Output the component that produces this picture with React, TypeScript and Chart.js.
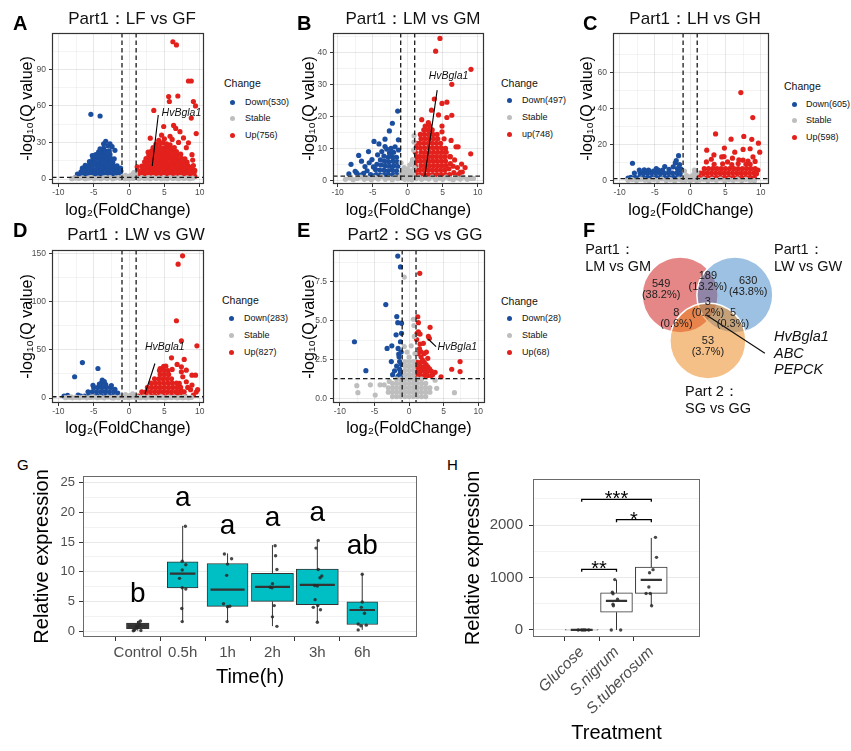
import React, { useEffect, useRef } from "react";
import { Chart, registerables } from "chart.js";

Chart.register(...registerables);

const FONT = "'Liberation Sans', Arial, Helvetica, sans-serif";
const BLUE = "#1B4E9E";
const RED = "#E3211C";
const GREY = "#BEBEBE";
const TICK_GREY = "#4D4D4D";

// ---------------- Volcano data: [log2FC, -log10(Q)] ----------------
const A_STABLE = [[-8.1,0.3],[-7.6,0.9],[-7.1,0.4],[-6.6,1.0],[-6.2,0.2],[-5.8,0.7],[-5.3,1.1],[-4.9,0.3],[-4.4,0.8],[-4.0,0.2],[-3.6,1.0],[-3.1,0.5],[-2.7,1.2],[-2.3,0.3],[-1.9,0.9],[-1.5,1.2],[-1.2,0.4],[-0.9,2.2],[-0.7,1.0],[-0.5,3.1],[-0.3,0.5],[-0.2,1.8],[0.0,0.2],[0.1,2.6],[0.3,1.1],[0.5,3.8],[0.6,0.4],[0.8,2.0],[0.9,4.6],[1.1,1.0],[1.4,0.3],[1.8,1.1],[2.2,0.4],[2.6,0.9],[3.0,0.2],[3.4,1.2],[3.8,0.5],[4.2,1.0],[4.6,0.3],[5.0,0.8],[5.4,0.2],[5.8,1.1],[6.2,0.5],[6.6,0.9],[7.0,0.2],[7.4,1.0],[7.8,0.4],[8.2,0.9],[8.6,0.3],[9.0,0.7],[-5.5,1.2],[-3.3,1.2],[2.8,1.2],[4.9,1.2],[7.2,1.2],[-0.6,0.2],[0.7,5.5]];
const A_DOWN = [[-7.2,1.6],[-7.3,4.1],[-6.7,2.2],[-6.8,5.8],[-6.6,8.9],[-6.2,1.5],[-6.3,5.2],[-6.1,8.1],[-6.2,11.3],[-5.7,2.1],[-5.8,5.1],[-5.6,8.2],[-5.7,11.0],[-5.6,14.2],[-5.2,1.6],[-5.3,4.6],[-5.1,7.6],[-5.2,10.9],[-5.3,14.1],[-5.1,17.0],[-5.2,19.3],[-4.7,2.0],[-4.8,5.1],[-4.6,8.0],[-4.7,11.2],[-4.8,14.0],[-4.6,17.2],[-4.7,20.1],[-4.2,1.5],[-4.3,4.4],[-4.1,7.5],[-4.2,10.6],[-4.3,13.4],[-4.1,16.5],[-4.2,19.6],[-4.3,22.3],[-3.7,2.0],[-3.8,5.0],[-3.6,8.1],[-3.7,11.1],[-3.8,14.0],[-3.6,17.1],[-3.7,20.0],[-3.8,23.1],[-3.6,25.2],[-3.2,1.5],[-3.3,4.5],[-3.1,7.6],[-3.2,10.4],[-3.3,13.6],[-3.1,16.4],[-3.2,19.5],[-3.3,22.6],[-2.7,2.1],[-2.8,5.0],[-2.6,8.1],[-2.7,11.0],[-2.8,14.1],[-2.6,17.0],[-2.7,20.2],[-2.8,23.0],[-2.2,1.6],[-2.3,4.5],[-2.1,7.4],[-2.2,10.5],[-2.3,13.5],[-2.1,16.6],[-1.7,2.0],[-1.8,5.0],[-1.6,8.0],[-1.7,10.8],[-1.3,1.6],[-1.4,4.2],[-1.15,3.0],[-1.15,6.5],[-1.2,9.0],[-5.4,53.1],[-4.1,51.7],[-3.3,30.9],[-3.6,28.9],[-2.7,28.9],[-4.1,24.8],[-2.0,23.5],[-4.9,19.2],[-7.6,1.2],[-6.9,3.4],[-2.4,26.5],[-3.0,27.2]];
const A_UP = [[1.15,3.0],[1.2,7.0],[1.15,10.0],[1.3,2.0],[1.4,4.8],[1.8,1.6],[1.7,4.6],[1.9,7.7],[1.8,10.6],[2.3,2.0],[2.2,5.1],[2.4,8.0],[2.3,11.2],[2.2,14.0],[2.4,16.8],[2.8,1.6],[2.7,4.5],[2.9,7.6],[2.8,10.5],[2.7,13.6],[2.9,16.5],[2.8,19.4],[2.7,22.0],[3.3,2.1],[3.2,5.0],[3.4,8.1],[3.3,11.0],[3.2,14.1],[3.4,17.0],[3.3,20.1],[3.2,23.0],[3.4,25.8],[3.8,1.5],[3.7,4.6],[3.9,7.5],[3.8,10.6],[3.7,13.5],[3.9,16.6],[3.8,19.5],[3.7,22.6],[3.9,25.5],[3.8,28.6],[4.3,2.0],[4.2,5.1],[4.4,8.0],[4.3,11.1],[4.2,14.0],[4.4,17.1],[4.3,20.0],[4.2,23.1],[4.4,26.0],[4.3,29.4],[4.8,1.6],[4.7,4.5],[4.9,7.6],[4.8,10.5],[4.7,13.6],[4.9,16.5],[4.8,19.6],[4.7,22.5],[4.9,25.6],[4.8,29.8],[5.3,2.1],[5.2,5.0],[5.4,8.1],[5.3,11.0],[5.2,14.1],[5.4,17.0],[5.3,20.1],[5.2,23.0],[5.4,26.1],[5.3,28.8],[5.8,1.5],[5.7,4.6],[5.9,7.5],[5.8,10.6],[5.7,13.5],[5.9,16.6],[5.8,19.5],[5.7,22.6],[5.9,25.5],[5.8,28.0],[6.3,2.0],[6.2,5.1],[6.4,8.0],[6.3,11.1],[6.2,14.0],[6.4,17.1],[6.3,20.0],[6.2,23.1],[6.4,25.8],[6.8,1.6],[6.7,4.5],[6.9,7.6],[6.8,10.5],[6.7,13.6],[6.9,16.5],[6.8,19.6],[6.7,22.5],[7.3,2.1],[7.2,5.0],[7.4,8.1],[7.3,11.0],[7.2,14.1],[7.4,17.0],[7.3,20.4],[7.8,1.5],[7.7,4.6],[7.9,7.5],[7.8,10.6],[7.7,13.5],[7.9,16.6],[8.3,2.0],[8.2,5.1],[8.4,8.0],[8.3,11.1],[8.2,13.8],[8.8,1.6],[8.7,4.5],[8.9,7.6],[8.8,9.8],[9.3,2.1],[9.2,5.2],[6.2,112.6],[6.7,110.0],[8.4,80.4],[8.8,80.4],[6.9,68.1],[5.6,67.6],[5.7,63.6],[9.1,63.6],[9.4,60.0],[8.8,50.0],[3.5,56.3],[9.5,37.3],[4.9,43.1],[6.3,44.0],[6.6,41.5],[7.2,38.8],[5.8,35.1],[7.7,33.7],[8.4,29.7],[8.1,25.7],[6.1,32.5],[4.6,36.0],[4.2,31.7],[9.1,11.0],[9.3,7.0],[7.8,7.0],[3.0,33.5],[5.0,33.0],[7.0,30.0],[8.9,20.0],[9.0,15.5]];

const B_STABLE = [[-8.9,0.3],[-8.3,0.8],[-7.8,0.2],[-7.2,0.6],[-6.7,1.0],[-6.2,0.3],[-5.7,0.7],[-5.2,0.2],[-4.7,0.9],[-4.2,0.4],[-3.7,1.1],[-3.2,0.3],[-2.7,0.8],[-2.2,0.2],[-1.8,1.0],[-1.4,0.5],[-1.1,1.2],[-0.9,2.5],[-0.8,0.6],[-0.6,1.8],[-0.5,4.0],[-0.4,0.3],[-0.3,2.6],[-0.1,1.2],[0.0,3.5],[0.1,0.4],[0.2,2.0],[0.3,4.8],[0.4,1.0],[0.5,3.0],[0.6,0.2],[0.7,6.5],[0.8,1.8],[0.85,9.5],[0.9,14.0],[0.95,4.0],[0.9,12.0],[1.2,0.5],[1.6,1.0],[2.0,0.3],[2.5,0.8],[3.0,0.4],[3.5,1.0],[4.0,0.2],[4.5,0.7],[5.0,0.3],[5.5,1.0],[6.0,0.5],[6.5,0.2],[7.0,0.8],[7.5,0.4],[8.0,1.0],[8.5,0.3],[9.0,0.6],[9.4,0.6],[-0.95,5.5],[-0.7,3.3],[0.6,5.5]];
const B_DOWN = [[-1.43,21.7],[-2.19,17.9],[-2.62,15.5],[-3.24,12.9],[-4.81,12.2],[-4.1,11.4],[-1.33,12.7],[-5.6,9.0],[-7.0,7.8],[-5.1,6.5],[-6.6,6.0],[-8.1,5.0],[-6.1,4.3],[-7.5,2.8],[-7.3,2.3],[-3.24,10.6],[-2.38,10.0],[-4.5,1.8],[-4.6,3.4],[-4.4,5.0],[-3.9,1.6],[-4.0,3.2],[-3.8,4.8],[-3.9,6.4],[-3.3,1.8],[-3.4,3.2],[-3.2,4.6],[-3.3,6.0],[-3.4,7.6],[-2.7,1.6],[-2.8,3.0],[-2.6,4.4],[-2.7,5.8],[-2.8,7.2],[-2.6,8.6],[-2.1,1.8],[-2.2,3.2],[-2.0,4.6],[-2.1,6.0],[-2.2,7.4],[-2.0,8.8],[-1.5,1.6],[-1.6,3.0],[-1.4,4.4],[-1.5,5.8],[-1.6,7.2],[-5.3,1.8],[-5.8,3.0],[-6.3,2.2],[-4.9,4.2],[-5.5,5.5],[-3.0,9.8],[-4.3,8.0],[-1.8,10.5],[-3.7,9.0],[-1.3,9.5],[-8.4,2.0],[-6.8,1.6],[-4.8,1.4]];
const B_UP = [[1.2,1.8],[1.3,3.2],[1.1,4.6],[1.2,6.0],[1.3,7.4],[1.1,8.8],[1.2,10.2],[1.3,11.6],[1.8,1.8],[1.7,3.2],[1.9,4.6],[1.8,6.0],[1.7,7.4],[1.9,8.8],[1.8,10.2],[1.7,11.6],[1.9,13.0],[1.8,14.4],[2.4,1.8],[2.3,3.2],[2.5,4.6],[2.4,6.0],[2.3,7.4],[2.5,8.8],[2.4,10.2],[2.3,11.6],[2.5,13.0],[2.4,14.4],[2.3,15.8],[2.5,17.0],[3.0,1.8],[2.9,3.2],[3.1,4.6],[3.0,6.0],[2.9,7.4],[3.1,8.8],[3.0,10.2],[2.9,11.6],[3.1,13.0],[3.0,14.4],[2.9,15.8],[3.1,17.2],[3.6,1.8],[3.5,3.2],[3.7,4.6],[3.6,6.0],[3.5,7.4],[3.7,8.8],[3.6,10.2],[3.5,11.6],[3.7,13.0],[3.6,14.4],[3.5,15.8],[4.2,1.8],[4.1,3.2],[4.3,4.6],[4.2,6.0],[4.1,7.4],[4.3,8.8],[4.2,10.2],[4.1,11.6],[4.3,13.0],[4.2,14.4],[4.8,1.8],[4.7,3.2],[4.9,4.6],[4.8,6.0],[4.7,7.4],[4.9,8.8],[4.8,10.2],[4.7,11.6],[5.4,1.8],[5.3,3.2],[5.5,4.6],[5.4,6.0],[5.3,7.4],[5.5,8.8],[5.4,10.0],[6.0,1.8],[5.9,3.6],[6.1,5.2],[6.0,7.4],[6.6,2.4],[6.5,4.4],[6.7,6.4],[7.2,1.8],[7.1,4.0],[7.8,2.6],[4.61,44.5],[3.99,40.5],[9.04,34.8],[6.3,30.1],[3.8,25.5],[5.6,24.5],[4.9,24.1],[6.3,20.4],[5.6,19.7],[2.95,18.1],[4.9,17.0],[4.9,15.2],[9.0,8.3],[6.9,10.5],[7.2,10.5],[7.7,5.1],[6.1,7.4],[3.4,22.0],[4.4,20.5],[5.2,13.0],[6.2,12.5],[2.0,19.0],[7.5,2.5],[8.2,4.0]];

const C_STABLE = [[-8.8,0.4],[-8.2,0.8],[-7.6,0.3],[-7.0,1.0],[-6.4,0.5],[-5.8,0.2],[-5.2,0.9],[-4.6,0.4],[-4.0,1.1],[-3.4,0.3],[-2.8,0.8],[-2.2,0.2],[-1.6,1.0],[-1.2,0.5],[-0.9,1.8],[-0.7,0.4],[-0.5,3.0],[-0.3,1.2],[0.0,0.3],[0.1,2.4],[0.3,0.8],[0.5,3.6],[0.7,1.5],[0.9,0.3],[0.95,4.5],[1.3,0.6],[1.9,1.0],[2.5,0.3],[3.1,0.9],[3.7,0.4],[4.3,1.1],[4.9,0.2],[5.5,0.8],[6.1,0.4],[6.7,1.0],[7.3,0.3],[7.9,0.9],[8.5,0.4],[9.1,0.2],[-0.8,5.5],[0.6,6.0]];
const C_DOWN = [[-8.4,2.0],[-7.8,2.0],[-7.9,4.4],[-7.2,2.0],[-7.1,4.4],[-7.2,6.0],[-6.6,2.0],[-6.7,4.4],[-6.5,6.2],[-6.0,2.0],[-6.1,4.4],[-5.9,6.0],[-5.4,2.0],[-5.5,4.4],[-4.8,2.0],[-4.9,4.4],[-4.8,6.8],[-4.2,2.0],[-4.3,4.4],[-3.6,2.0],[-3.7,4.4],[-3.6,8.0],[-3.0,2.0],[-3.1,4.4],[-3.0,6.4],[-2.4,2.0],[-2.5,4.4],[-2.4,7.8],[-1.8,2.0],[-1.9,4.4],[-1.8,6.8],[-1.3,2.0],[-1.4,4.4],[-1.3,6.6],[-8.17,9.8],[-1.64,14.0],[-1.97,11.3],[-2.1,10.0],[-1.5,9.0],[-4.5,6.0],[-5.2,5.5],[-8.8,1.6],[-3.9,6.0]];
const C_UP = [[1.3,2.0],[1.4,4.4],[1.9,2.0],[1.8,4.4],[2.0,6.8],[2.5,2.0],[2.4,4.4],[2.6,6.8],[3.1,2.0],[3.0,4.4],[3.2,6.8],[3.7,2.0],[3.6,4.4],[3.8,6.8],[4.3,2.0],[4.2,4.4],[4.4,6.8],[4.9,2.0],[4.8,4.4],[5.0,6.8],[5.5,2.0],[5.4,4.4],[5.6,6.8],[6.1,2.0],[6.0,4.4],[6.2,6.8],[6.7,2.0],[6.6,4.4],[6.8,6.8],[7.3,2.0],[7.2,4.4],[7.4,6.8],[7.9,2.0],[7.8,4.4],[8.0,6.8],[7.9,9.2],[8.5,2.0],[8.4,4.4],[8.6,6.8],[8.5,9.2],[9.1,2.0],[9.0,4.4],[9.2,6.8],[7.18,48.8],[8.87,35.0],[3.6,26.0],[7.6,24.6],[5.8,23.1],[8.73,23.0],[9.67,20.9],[9.86,15.9],[2.35,17.0],[4.85,18.2],[7.5,17.4],[8.5,17.8],[3.37,14.4],[6.32,15.9],[4.47,13.3],[4.8,13.5],[8.9,13.3],[5.99,12.6],[7.5,11.5],[9.2,10.8],[6.9,11.7],[2.3,10.5],[3.4,9.2],[4.6,9.5],[5.9,9.0],[6.8,9.6],[8.2,11.0],[9.6,6.0],[9.4,4.0],[3.0,12.0],[5.3,10.5]];

const D_STABLE = [[-9.0,0.3],[-8.5,0.8],[-8.0,0.2],[-7.5,0.7],[-7.0,0.3],[-6.5,0.9],[-6.0,0.2],[-5.5,0.6],[-5.0,1.0],[-4.5,0.3],[-4.0,0.8],[-3.5,0.2],[-3.0,1.0],[-2.5,0.4],[-2.0,0.9],[-1.5,0.3],[-1.2,1.1],[-0.9,2.0],[-0.7,0.5],[-0.5,3.5],[-0.3,1.2],[-0.1,0.3],[0.1,2.5],[0.3,0.8],[0.5,4.2],[0.7,1.5],[0.9,0.4],[1.2,1.0],[1.6,0.3],[2.0,0.9],[2.4,0.2],[2.8,1.0],[3.2,0.4],[3.6,0.8],[4.0,0.2],[4.4,1.0],[4.8,0.5],[5.2,0.2],[5.6,0.9],[6.0,0.4],[6.4,1.0],[6.8,0.2],[7.2,0.7],[7.6,0.3],[8.0,0.9],[8.4,0.2],[8.8,0.6],[-8.2,1.1],[-5.2,1.2],[-2.2,0.1],[4.6,1.1],[7.8,1.1]];
const D_DOWN = [[-6.3,2.0],[-5.7,2.0],[-5.8,6.5],[-5.1,2.0],[-5.2,6.5],[-5.0,11.0],[-4.5,2.0],[-4.6,6.5],[-4.4,11.0],[-3.9,2.0],[-4.0,6.5],[-3.8,11.0],[-3.9,15.5],[-3.3,2.0],[-3.4,6.5],[-3.2,11.0],[-3.3,14.0],[-2.7,2.0],[-2.8,6.5],[-2.6,11.0],[-2.1,2.0],[-2.2,6.5],[-2.0,9.0],[-1.5,2.0],[-1.6,5.0],[-6.6,36.9],[-7.7,22.1],[-4.4,30.7],[-3.79,18.5],[-5.1,13.2],[-8.7,2.7],[-7.2,3.0],[-6.8,2.0],[-9.2,2.0],[-3.5,17.0],[-4.2,14.5],[-2.5,13.0]];
const D_UP = [[1.3,2.0],[1.9,2.0],[1.8,6.5],[2.5,2.0],[2.4,6.5],[2.6,11.0],[3.1,2.0],[3.0,6.5],[3.2,11.0],[3.1,15.5],[3.7,2.0],[3.6,6.5],[3.8,11.0],[3.7,15.5],[3.6,20.0],[4.3,2.0],[4.2,6.5],[4.4,11.0],[4.3,15.5],[4.2,20.0],[4.4,24.5],[4.3,28.5],[4.9,2.0],[4.8,6.5],[5.0,11.0],[4.9,15.5],[4.8,20.0],[5.0,24.5],[4.9,29.0],[4.9,33.0],[5.5,2.0],[5.4,6.5],[5.6,11.0],[5.5,15.5],[5.4,20.0],[5.6,24.5],[5.5,28.5],[6.1,2.0],[6.0,6.5],[6.2,11.0],[6.1,15.5],[6.0,20.0],[6.7,2.0],[6.6,6.5],[6.8,11.0],[6.7,15.5],[7.3,2.0],[7.2,6.5],[7.3,11.0],[7.9,2.0],[7.8,6.5],[7.57,147.9],[6.94,139.3],[6.7,80.4],[7.4,59.5],[9.6,54.3],[6.0,41.8],[7.8,40.1],[6.8,34.9],[7.4,32.4],[5.2,33.1],[4.4,30.7],[6.1,29.7],[8.1,29.0],[7.4,27.2],[8.9,23.8],[9.4,23.8],[7.6,22.1],[8.1,16.9],[7.1,15.2],[8.9,13.4],[7.4,7.3],[8.7,8.7],[9.7,8.7],[9.5,6.2],[6.9,4.5],[8.3,11.0],[9.1,3.0]];

const E_STABLE = [[-7.56,0.85],[-7.4,0.4],[-5.6,0.9],[-4.9,0.25],[-4.2,0.9],[-3.6,0.9],[-2.86,1.12],[6.55,0.4],[3.99,0.68],[3.76,1.2],[-0.7,7.8],[0.62,5.1],[0.7,4.7],[0.75,4.0],[-0.7,3.35],[-3.0,0.43],[-3.0,0.71],[-2.4,0.15],[-2.4,0.43],[-2.4,0.71],[-2.4,0.99],[-1.8,0.15],[-1.8,0.43],[-1.8,0.71],[-1.8,0.99],[-1.8,1.27],[-1.2,0.15],[-1.2,0.43],[-1.2,0.71],[-1.2,0.99],[-1.2,1.27],[-0.6,0.15],[-0.6,0.43],[-0.6,0.71],[-0.6,0.99],[-0.6,1.27],[-0.6,1.55],[-0.6,1.83],[-0.6,2.11],[-0.6,2.39],[0.0,0.15],[0.0,0.43],[0.0,0.71],[0.0,0.99],[0.0,1.27],[0.0,1.55],[0.0,1.83],[0.0,2.11],[0.0,2.39],[0.0,2.67],[0.6,0.15],[0.6,0.43],[0.6,0.71],[0.6,0.99],[0.6,1.27],[0.6,1.55],[0.6,1.83],[0.6,2.11],[0.6,2.39],[1.2,0.15],[1.2,0.43],[1.2,0.71],[1.2,0.99],[1.2,1.27],[1.8,0.15],[1.8,0.43],[1.8,0.71],[1.8,0.99],[1.8,1.27],[2.4,0.15],[2.4,0.43],[2.4,0.71],[2.4,0.99],[3.0,0.43],[3.0,0.71],[-0.3,3.0],[0.3,3.4],[0.85,2.9]];
const E_DOWN = [[-1.64,9.14],[-1.25,8.45],[-3.37,6.04],[-1.78,5.27],[-1.64,4.88],[-1.1,4.85],[-7.9,3.66],[-1.88,4.1],[-1.1,4.2],[-1.25,3.66],[-3.18,3.23],[-2.5,3.4],[-1.59,3.23],[-1.5,2.87],[-1.45,2.7],[-2.57,2.39],[-1.37,2.39],[-6.25,1.81],[-1.37,1.9],[-2.38,1.55],[-1.37,1.55],[-1.2,1.45],[-1.15,3.0],[-1.8,2.1],[-1.1,2.2],[-2.1,1.8],[-1.25,1.75],[-1.6,1.45]];
const E_UP = [[1.54,8.04],[1.25,5.26],[1.34,4.88],[3.03,4.58],[1.34,4.3],[1.58,4.15],[2.79,4.0],[2.93,3.88],[2.06,3.56],[1.58,3.51],[1.73,3.02],[1.73,2.7],[2.7,2.6],[7.37,2.39],[6.16,1.9],[7.37,1.75],[4.62,1.42],[3.76,1.7],[1.2,1.5],[1.2,1.78],[1.2,2.06],[1.2,2.34],[1.7,1.5],[1.7,1.78],[1.7,2.06],[1.7,2.34],[2.2,1.5],[2.2,1.78],[2.2,2.06],[2.2,2.34],[2.7,1.5],[2.7,1.78],[2.7,2.06],[3.2,1.5],[3.2,1.78],[1.45,1.64],[1.95,1.92],[2.45,1.64],[2.95,1.92],[1.45,2.2],[1.95,2.48],[2.45,2.2],[1.3,2.9],[1.5,3.2],[1.1,3.8],[2.2,2.9],[2.5,3.0],[3.4,1.55],[1.15,4.2]];

const A_LEGEND = ["Down(530)", "Stable", "Up(756)"];
const B_LEGEND = ["Down(497)", "Stable", "up(748)"];
const C_LEGEND = ["Down(605)", "Stable", "Up(598)"];
const D_LEGEND = ["Down(283)", "Stable", "Up(827)"];
const E_LEGEND = ["Down(28)", "Stable", "Up(68)"];

// gene label: text, text anchor (x,y), leader line from (x1,y1) to (x2,y2)
const A_GENE = { text: "HvBgla1", x: 4.6, y: 53.9, x1: 4.13, y1: 52.5, x2: 3.28, y2: 10.7 };
const B_GENE = { text: "HvBgla1", x: 3.0, y: 32.7, x1: 4.21, y1: 28.3, x2: 2.45, y2: 1.4 };
const D_GENE = { text: "HvBgla1", x: 2.25, y: 53.2, x1: 3.66, y1: 35.9, x2: 2.25, y2: 4.3 };
const E_GENE = { text: "HvBgla1", x: 4.1, y: 3.3, x1: 2.79, y1: 3.82, x2: 3.9, y2: 3.35 };

const FC_CUT = 1;
const Q_CUT = 1.3;

// ---------------- Venn ----------------
const VENN_SETS = [["Part1：", "LM vs GM"], ["Part1：", "LW vs GW"], ["Part 2：", "SG vs GG"]];
const VENN_CX = [-0.72, 0.72, 0.01];
const VENN_CY = [0, 0, 1.21];
const VENN_R = 1.0;
const VENN_FILL = ["rgba(205,15,15,0.5)", "rgba(59,131,197,0.5)", "rgba(235,129,15,0.5)"];
const VENN_COUNTS = [549, 189, 630, 3, 8, 5, 53];
const VENN_PCT = ["38.2%", "13.2%", "43.8%", "0.2%", "0.6%", "0.3%", "3.7%"];
const VENN_LX = [-1.22, 0.01, 1.07, 0.01, -0.82, 0.67, 0.01];
const VENN_LY = [-0.145, -0.35, -0.22, 0.32, 0.62, 0.62, 1.35];
const VENN_SET_X = [-3.22, 1.75, -0.59];
const VENN_SET_Y = [-1.18, -1.18, 2.54];
const VENN_GENES = ["HvBgla1", "ABC", "PEPCK"];
const VENN_GENE_POS = [1.75, 1.1];
const VENN_POINTER = [-0.02, 0.53, 1.51, 1.53];

// ---------------- G: time course ----------------
const G_CATS = ["Control", "0.5h", "1h", "2h", "3h", "6h"];
const G_Q1 = [0.39, 7.29, 4.17, 5.0, 4.45, 1.11];
const G_MED = [0.83, 9.68, 7.0, 7.46, 7.79, 3.56];
const G_Q3 = [1.34, 11.69, 11.4, 9.74, 10.46, 4.95];
const G_LO = [0.05, 1.6, 1.6, 0.83, 1.5, 0.2];
const G_HI = [1.7, 17.75, 13.1, 14.5, 15.3, 9.68];
const G_WIDTH = [0.42, 0.57, 0.76, 0.78, 0.78, 0.57];
const G_FILL = ["#3A3A3A", "#00BFC4", "#00BFC4", "#00BFC4", "#00BFC4", "#00BFC4"];
const G_LETTERS = ["b", "a", "a", "a", "a", "ab"];
const G_LETTER_Y = [4.85, 21.16, 16.43, 17.65, 18.5, 13.0];
const G_POINTS = [
  [[-0.08,0.15],[-0.03,0.85],[0.02,1.5],[0.06,1.7],[0.0,0.6],[0.07,0.1],[-0.1,0.05],[0.04,1.05],[-0.05,0.4]],
  [[0.06,17.7],[-0.01,11.8],[0.07,11.2],[-0.01,10.3],[-0.07,8.9],[-0.01,7.3],[0.07,7.1],[-0.02,3.8],[-0.01,1.6]],
  [[-0.07,13.0],[0.09,12.2],[0.0,11.3],[-0.02,9.4],[-0.09,4.6],[0.05,4.2],[0.0,4.1],[-0.01,1.6]],
  [[0.06,14.4],[0.07,12.7],[0.1,10.4],[0.0,8.0],[-0.05,7.4],[-0.01,7.3],[0.04,4.3],[0.0,2.4],[0.1,0.8]],
  [[0.02,15.3],[-0.03,14.0],[0.02,10.4],[0.1,9.3],[0.06,9.0],[-0.06,7.7],[0.0,7.6],[-0.05,5.3],[0.01,4.3],[-0.09,4.0],[0.07,3.6],[0.0,1.5]],
  [[0.0,9.6],[0.0,4.9],[-0.02,4.0],[0.05,3.0],[-0.09,1.2],[0.09,1.0],[-0.03,0.9],[-0.09,0.2]],
];

// ---------------- H: treatments ----------------
const H_CATS = ["Glucose", "S.nigrum", "S.tuberosum"];
const H_Q1 = [-4, 338, 696];
const H_MED = [0, 554, 954];
const H_Q3 = [8, 707, 1200];
const H_LO = [0, 0, 462];
const H_HI = [0, 955, 1755];
const H_WIDTH = [0.63, 0.61, 0.61];
const H_FILL = ["#FFFFFF", "#FFFFFF", "#FFFFFF"];
const H_POINTS = [
  [[0.0,0],[0.1,0],[-0.1,0],[0.2,0],[0.05,0]],
  [[-0.05,960],[-0.12,720],[-0.1,690],[0.03,585],[-0.1,492],[-0.09,462],[-0.15,0],[0.12,0]],
  [[0.12,1767],[0.15,1385],[0.05,1150],[-0.05,1090],[-0.07,818],[-0.15,696],[-0.03,696],[0.01,462]],
];
const H_SIG_FROM = [0, 1, 0];
const H_SIG_TO = [1, 2, 2];
const H_SIG_Y = [1157, 2105, 2492];
const H_SIG_LABEL = ["**", "*", "***"];
const H_SIG_TIP = 48;

// ---------------- helpers ----------------
type Rect = { l: number; t: number; r: number; b: number };

function frame(plot: Rect, yW: number, xH: number, padT = 10, padR = 10) {
  const left = plot.l - yW;
  const top = plot.t - padT;
  return { left, top, width: plot.r + padR - left, height: plot.b + xH - top };
}

function withMinor(major: number[], min: number, max: number, minor: boolean) {
  if (!minor) return major.slice();
  const step = major.length > 1 ? major[1] - major[0] : 1;
  const out: number[] = [major[0] - step / 2];
  major.forEach((m) => { out.push(m); out.push(m + step / 2); });
  return out.filter((v) => v >= min - 1e-9 && v <= max + 1e-9).sort((a, b) => a - b);
}

function linAxis(o: any) {
  const major: number[] = o.major;
  const all = withMinor(major, o.min, o.max, o.minor !== false);
  const isMajor = (v: any) => major.some((m) => Math.abs(m - v) < 1e-9);
  return {
    type: "linear",
    min: o.min,
    max: o.max,
    afterBuildTicks: (sc: any) => { sc.ticks = all.map((v) => ({ value: v })); },
    afterFit: (sc: any) => { if (o.horizontal) sc.height = o.size; else sc.width = o.size; },
    ticks: {
      autoSkip: false,
      maxRotation: o.rot || 0,
      minRotation: o.rot || 0,
      padding: o.pad,
      color: TICK_GREY,
      font: { family: FONT, size: o.fs, style: o.italic ? "italic" : "normal" },
      callback: (v: any) => {
        const k = major.findIndex((m) => Math.abs(m - v) < 1e-9);
        if (k < 0) return "";
        if (o.labels) return o.labels[k];
        return o.fmt ? o.fmt(v) : String(v);
      },
    },
    grid: {
      display: true,
      drawOnChartArea: o.grid !== false,
      drawTicks: true,
      tickLength: o.tickLen,
      lineWidth: 1,
      color: (c: any) => (c.tick && isMajor(c.tick.value) ? o.gridMajor : o.gridMinor),
      tickColor: (c: any) => (c.tick && isMajor(c.tick.value) ? "#333333" : "rgba(0,0,0,0)"),
    },
    border: { display: false },
    title: { display: true, text: o.title, color: "#000", padding: 0, font: { family: FONT, size: o.titleSize } },
  };
}

function borderPlugin(color: string, width: number) {
  return {
    id: "panelBorder",
    afterDraw(chart: any) {
      const { ctx, chartArea: a } = chart;
      ctx.save();
      ctx.strokeStyle = color;
      ctx.lineWidth = width;
      ctx.strokeRect(Math.round(a.left) + 0.5, Math.round(a.top) + 0.5, Math.round(a.right - a.left) - 1, Math.round(a.bottom - a.top) - 1);
      ctx.restore();
    },
  };
}

function volcanoRefPlugin(gene: any) {
  return {
    id: "volcanoRefs",
    afterDatasetsDraw(chart: any) {
      const { ctx, chartArea: a, scales } = chart;
      const xs = scales.x, ys = scales.y;
      ctx.save();
      ctx.beginPath();
      ctx.rect(a.left, a.top, a.right - a.left, a.bottom - a.top);
      ctx.clip();
      ctx.strokeStyle = "#1a1a1a";
      ctx.lineWidth = 1.3;
      ctx.setLineDash([4.5, 3]);
      [-FC_CUT, FC_CUT].forEach((v) => {
        const px = xs.getPixelForValue(v);
        ctx.beginPath(); ctx.moveTo(px, a.top); ctx.lineTo(px, a.bottom); ctx.stroke();
      });
      const py = ys.getPixelForValue(Q_CUT);
      ctx.beginPath(); ctx.moveTo(a.left, py); ctx.lineTo(a.right, py); ctx.stroke();
      ctx.setLineDash([]);
      if (gene) {
        ctx.strokeStyle = "#000"; ctx.lineWidth = 1.1;
        ctx.beginPath();
        ctx.moveTo(xs.getPixelForValue(gene.x1), ys.getPixelForValue(gene.y1));
        ctx.lineTo(xs.getPixelForValue(gene.x2), ys.getPixelForValue(gene.y2));
        ctx.stroke();
        ctx.font = `italic 10.5px ${FONT}`;
        ctx.fillStyle = "#111";
        ctx.textAlign = "left";
        ctx.textBaseline = "middle";
        ctx.fillText(gene.text, xs.getPixelForValue(gene.x), ys.getPixelForValue(gene.y));
      }
      ctx.restore();
    },
  };
}

function textPlugin(items: any[]) {
  return {
    id: "textMarks",
    afterDatasetsDraw(chart: any) {
      const { ctx, scales } = chart;
      ctx.save();
      items.forEach((it) => {
        ctx.font = it.font;
        ctx.fillStyle = it.color || "#000";
        ctx.textAlign = "center";
        ctx.textBaseline = "alphabetic";
        ctx.fillText(it.text, scales.x.getPixelForValue(it.x), scales.y.getPixelForValue(it.y) + (it.dy || 0));
      });
      ctx.restore();
    },
  };
}

const pts = (arr: number[][]) => arr.map(([x, y]) => ({ x, y }));

function volcanoConfig(s: any) {
  const ds = (label: string, data: number[][], color: string) => ({
    label, data: pts(data), backgroundColor: color, pointRadius: 2.6, pointBorderWidth: 0, pointHoverRadius: 2.6,
  });
  return {
    type: "scatter",
    data: { datasets: [ds("Stable", s.stable, GREY), ds("Down", s.down, BLUE), ds("Up", s.up, RED)] },
    options: {
      animation: false, responsive: false, events: [],
      layout: { padding: { top: 10, right: 10, left: 0, bottom: 0 } },
      plugins: { legend: { display: false }, tooltip: { enabled: false } },
      scales: {
        x: linAxis({ horizontal: true, size: s.xH, min: s.xr[0], max: s.xr[1], major: [-10, -5, 0, 5, 10], fs: 8.5, pad: 1, tickLen: 3,
          gridMajor: "rgba(0,0,0,0.09)", gridMinor: "rgba(0,0,0,0.045)", title: "log₂(FoldChange)", titleSize: 16 }),
        y: linAxis({ horizontal: false, size: s.yW, min: s.yr[0], max: s.yr[1], major: s.yTicks, fmt: s.yFmt, fs: 8.5, pad: 3, tickLen: 3,
          gridMajor: "rgba(0,0,0,0.09)", gridMinor: "rgba(0,0,0,0.045)", title: "-log₁₀(Q value)", titleSize: 16 }),
      },
    },
    plugins: [borderPlugin("#333333", 1.2), volcanoRefPlugin(s.gene)],
  };
}

function boxConfig(s: any) {
  const datasets: any[] = [];
  const pxPerUnit = (s.plot.r - s.plot.l) / (s.xr[1] - s.xr[0]);
  s.cats.forEach((_: any, i: number) => {
    datasets.push({
      type: "bar", data: [{ x: i, y: [s.q1[i], s.q3[i]] }], backgroundColor: s.fill[i], borderColor: "#333333",
      borderWidth: 1, borderSkipped: false, barThickness: s.width[i] * pxPerUnit, grouped: false, order: 3,
    });
  });
  const med: any[] = [];
  const whisk: any[] = [];
  s.cats.forEach((_: any, i: number) => {
    const h = s.width[i] / 2;
    med.push({ x: i - h, y: s.med[i] }, { x: i + h, y: s.med[i] }, { x: i + h, y: null });
    whisk.push({ x: i, y: s.lo[i] }, { x: i, y: s.q1[i] }, { x: i, y: null }, { x: i, y: s.q3[i] }, { x: i, y: s.hi[i] }, { x: i, y: null });
  });
  datasets.push({ type: "line", data: whisk, borderColor: "#333333", borderWidth: 1, pointRadius: 0, spanGaps: false, order: 4 });
  datasets.push({ type: "line", data: med, borderColor: "#333333", borderWidth: 2.2, pointRadius: 0, spanGaps: false, order: 1 });
  const jitter: any[] = [];
  s.points.forEach((grp: number[][], i: number) => grp.forEach(([dx, y]) => jitter.push({ x: i + dx, y })));
  datasets.push({ type: "scatter", data: jitter, backgroundColor: "rgba(40,40,40,0.85)", pointRadius: 1.7, pointBorderWidth: 0, order: 0 });
  if (s.extra) s.extra.forEach((d: any) => datasets.push(d));
  return {
    type: "scatter",
    data: { datasets },
    options: {
      animation: false, responsive: false, events: [],
      layout: { padding: { top: 10, right: 10, left: 0, bottom: 0 } },
      plugins: { legend: { display: false }, tooltip: { enabled: false } },
      scales: {
        x: linAxis({ horizontal: true, size: s.xH, min: s.xr[0], max: s.xr[1], major: s.cats.map((_: any, i: number) => i), labels: s.cats,
          minor: false, grid: false, fs: s.xfs, italic: s.italic, rot: s.rot, pad: s.xpad, tickLen: 4, title: s.xTitle, titleSize: 20 }),
        y: linAxis({ horizontal: false, size: s.yW, min: s.yr[0], max: s.yr[1], major: s.yTicks, fs: s.yfs, pad: s.ypad, tickLen: 4,
          gridMajor: "rgba(0,0,0,0.085)", gridMinor: "rgba(0,0,0,0.05)", title: "Relative expression", titleSize: 20 }),
      },
    },
    plugins: [borderPlugin("#6a6a6a", 1), textPlugin(s.texts)],
  };
}

function vennPlugin() {
  return {
    id: "vennText",
    afterDatasetsDraw(chart: any) {
      const { ctx, scales } = chart;
      const X = (v: number) => scales.x.getPixelForValue(v);
      const Y = (v: number) => scales.y.getPixelForValue(v);
      ctx.save();
      ctx.strokeStyle = "#111"; ctx.lineWidth = 1.2;
      ctx.beginPath(); ctx.moveTo(X(VENN_POINTER[0]), Y(VENN_POINTER[1])); ctx.lineTo(X(VENN_POINTER[2]), Y(VENN_POINTER[3])); ctx.stroke();
      ctx.font = `11px ${FONT}`; ctx.fillStyle = "#222"; ctx.textAlign = "center"; ctx.textBaseline = "middle";
      VENN_COUNTS.forEach((c, i) => {
        const px = X(VENN_LX[i]), py = Y(VENN_LY[i]);
        ctx.fillText(String(c), px, py - 5.5);
        ctx.fillText(`(${VENN_PCT[i]})`, px, py + 5.5);
      });
      ctx.font = `14.5px ${FONT}`; ctx.fillStyle = "#111"; ctx.textAlign = "left";
      VENN_SETS.forEach((lines, i) => lines.forEach((t, j) => ctx.fillText(t, X(VENN_SET_X[i]), Y(VENN_SET_Y[i]) + j * 17)));
      ctx.font = `italic 14.5px ${FONT}`;
      VENN_GENES.forEach((g, j) => ctx.fillText(g, X(VENN_GENE_POS[0]), Y(VENN_GENE_POS[1]) + j * 16.7));
      ctx.restore();
    },
  };
}

// ---------------- React pieces ----------------
function ChartBox({ f, make }: any) {
  const ref = useRef<HTMLCanvasElement>(null);
  useEffect(() => {
    const chart = new Chart(ref.current as any, make());
    return () => chart.destroy();
  }, []);
  return <canvas ref={ref} width={f.width} height={f.height} style={{ position: "absolute", left: f.left, top: f.top, width: f.width, height: f.height }} />;
}

function Txt({ x, y, size, children, center, weight, italic, color }: any) {
  return (
    <div style={{
      position: "absolute", left: x, top: y - 0.8465 * size, fontSize: size, lineHeight: `${size}px`,
      fontWeight: weight || 400, fontStyle: italic ? "italic" : "normal", color: color || "#111", whiteSpace: "nowrap",
      fontFamily: FONT, transform: center ? "translateX(-50%)" : undefined,
    }}>{children}</div>
  );
}

function Legend({ x, y, dotX, itemY, textX, labels }: any) {
  const cols = [BLUE, GREY, RED];
  return (
    <>
      <Txt x={x} y={y + 3.8} size={10.5}>Change</Txt>
      {labels.map((l: string, i: number) => (
        <React.Fragment key={i}>
          <div style={{ position: "absolute", left: dotX - 2.5, top: itemY[i] - 2.5, width: 5, height: 5, borderRadius: "50%", background: cols[i] }} />
          <Txt x={textX} y={itemY[i] + 3.2} size={9}>{l}</Txt>
        </React.Fragment>
      ))}
    </>
  );
}

const VOLC = [
  { key: "A", plot: { l: 52, t: 33, r: 204, b: 184 }, yW: 34, xH: 36, xr: [-10.9, 10.6], yr: [-4.1, 119.8], yTicks: [0, 30, 60, 90], stable: A_STABLE, down: A_DOWN, up: A_UP, gene: A_GENE },
  { key: "B", plot: { l: 333, t: 33, r: 484, b: 184 }, yW: 33, xH: 36, xr: [-10.67, 10.9], yr: [-1.16, 46.2], yTicks: [0, 10, 20, 30, 40], stable: B_STABLE, down: B_DOWN, up: B_UP, gene: B_GENE },
  { key: "C", plot: { l: 613, t: 33, r: 769, b: 184 }, yW: 35, xH: 36, xr: [-10.93, 11.17], yr: [-1.66, 81.7], yTicks: [0, 20, 40, 60], stable: C_STABLE, down: C_DOWN, up: C_UP, gene: null },
  { key: "D", plot: { l: 52, t: 250, r: 204, b: 403 }, yW: 34, xH: 35, xr: [-10.9, 10.6], yr: [-5.2, 154], yTicks: [0, 50, 100, 150], stable: D_STABLE, down: D_DOWN, up: D_UP, gene: D_GENE },
  { key: "E", plot: { l: 333, t: 250, r: 485, b: 403 }, yW: 33, xH: 35, xr: [-11, 10.97], yr: [-0.26, 9.53], yTicks: [0, 2.5, 5, 7.5], yFmt: (v: number) => v.toFixed(1), stable: E_STABLE, down: E_DOWN, up: E_UP, gene: E_GENE },
];

const G_SPEC = {
  plot: { l: 83, t: 474, r: 417, b: 637 }, yW: 53, xH: 52, xr: [-0.6, 5.6], yr: [-1.0, 26.2], yTicks: [0, 5, 10, 15, 20, 25],
  cats: G_CATS, q1: G_Q1, med: G_MED, q3: G_Q3, lo: G_LO, hi: G_HI, width: G_WIDTH, fill: G_FILL, points: G_POINTS,
  xfs: 15, yfs: 13, xpad: 3, ypad: 4, rot: 0, italic: false, xTitle: "Time(h)",
  texts: G_LETTERS.map((t, i) => ({ text: t, x: i, y: G_LETTER_Y[i], font: `28px ${FONT}` })),
};

const H_SPEC = {
  plot: { l: 533, t: 474, r: 700, b: 637 }, yW: 72, xH: 108, xr: [-0.6, 2.6], yr: [-135, 2880], yTicks: [0, 1000, 2000],
  cats: H_CATS, q1: H_Q1, med: H_MED, q3: H_Q3, lo: H_LO, hi: H_HI, width: H_WIDTH, fill: H_FILL, points: H_POINTS,
  xfs: 15.5, yfs: 15, xpad: 2, ypad: 6, rot: 45, italic: true, xTitle: "Treatment",
  texts: H_SIG_LABEL.map((t, i) => ({ text: t, x: (H_SIG_FROM[i] + H_SIG_TO[i]) / 2, y: H_SIG_Y[i], dy: 6, font: `20px ${FONT}` })),
  extra: [{
    type: "line",
    data: H_SIG_LABEL.flatMap((_, i) => [
      { x: H_SIG_FROM[i], y: H_SIG_Y[i] - H_SIG_TIP }, { x: H_SIG_FROM[i], y: H_SIG_Y[i] },
      { x: H_SIG_TO[i], y: H_SIG_Y[i] }, { x: H_SIG_TO[i], y: H_SIG_Y[i] - H_SIG_TIP }, { x: H_SIG_TO[i], y: null },
    ]),
    borderColor: "#000", borderWidth: 1.3, pointRadius: 0, spanGaps: false, order: 2,
  }],
};

const VENN_FRAME = { left: 575, top: 238, width: 276, height: 185 };
const VENN_UNIT = 38;

function vennConfig() {
  const cx = 707.5 - VENN_FRAME.left, cy = 295 - VENN_FRAME.top;
  return {
    type: "scatter",
    data: {
      datasets: [{
        data: VENN_CX.map((x, i) => ({ x, y: VENN_CY[i] })),
        backgroundColor: VENN_FILL,
        pointBorderColor: "#ffffff",
        pointBorderWidth: 1.5,
        pointRadius: (c: any) => c.chart.scales.x.getPixelForValue(VENN_R) - c.chart.scales.x.getPixelForValue(0),
      }],
    },
    options: {
      animation: false, responsive: false, events: [],
      layout: { padding: 0 },
      plugins: { legend: { display: false }, tooltip: { enabled: false } },
      scales: {
        x: { type: "linear", display: false, min: -cx / VENN_UNIT, max: (VENN_FRAME.width - cx) / VENN_UNIT },
        y: { type: "linear", display: false, reverse: true, min: -cy / VENN_UNIT, max: (VENN_FRAME.height - cy) / VENN_UNIT },
      },
    },
    plugins: [vennPlugin()],
  };
}

const TITLES = [
  { t: "Part1：LF vs GF", x: 132, y: 24.5 },
  { t: "Part1：LM vs GM", x: 413, y: 24.5 },
  { t: "Part1：LH vs GH", x: 695, y: 24.5 },
  { t: "Part1：LW vs GW", x: 136, y: 240.5 },
  { t: "Part2：SG vs GG", x: 415, y: 240.5 },
];

const LETTERS = [
  { t: "A", x: 13, y: 30 }, { t: "B", x: 297, y: 30 }, { t: "C", x: 583, y: 30 },
  { t: "D", x: 13, y: 237 }, { t: "E", x: 297, y: 237 }, { t: "F", x: 583, y: 237 },
];

const LEGENDS = [
  { x: 224, y: 83, dotX: 232, itemY: [102, 118.5, 135], textX: 245, labels: A_LEGEND },
  { x: 501, y: 83, dotX: 509, itemY: [100, 117, 134], textX: 522, labels: B_LEGEND },
  { x: 784, y: 86, dotX: 794, itemY: [104, 120, 137], textX: 806, labels: C_LEGEND },
  { x: 222, y: 300, dotX: 231, itemY: [318, 335, 352], textX: 244, labels: D_LEGEND },
  { x: 501, y: 301, dotX: 509, itemY: [318, 335, 352], textX: 522, labels: E_LEGEND },
];

export default function App() {
  return (
    <div style={{ position: "absolute", left: 0, top: 0, width: 851, height: 751, background: "#fff", overflow: "hidden", fontFamily: FONT }}>
      {VOLC.map((s) => (
        <ChartBox key={s.key} f={frame(s.plot, s.yW, s.xH)} make={() => volcanoConfig(s)} />
      ))}
      <ChartBox f={VENN_FRAME} make={vennConfig} />
      <ChartBox f={frame(G_SPEC.plot, G_SPEC.yW, G_SPEC.xH)} make={() => boxConfig(G_SPEC)} />
      <ChartBox f={frame(H_SPEC.plot, H_SPEC.yW, H_SPEC.xH)} make={() => boxConfig(H_SPEC)} />
      {TITLES.map((t, i) => (
        <Txt key={"t" + i} x={t.x} y={t.y} size={17} center>{t.t}</Txt>
      ))}
      {LETTERS.map((l, i) => (
        <Txt key={"l" + i} x={l.x} y={l.y} size={20} weight={700} color="#000">{l.t}</Txt>
      ))}
      {LEGENDS.map((l, i) => (
        <Legend key={"lg" + i} {...l} />
      ))}
      <Txt x={17} y={470} size={15} color="#000">G</Txt>
      <Txt x={447} y={470} size={15} color="#000">H</Txt>
    </div>
  );
}
